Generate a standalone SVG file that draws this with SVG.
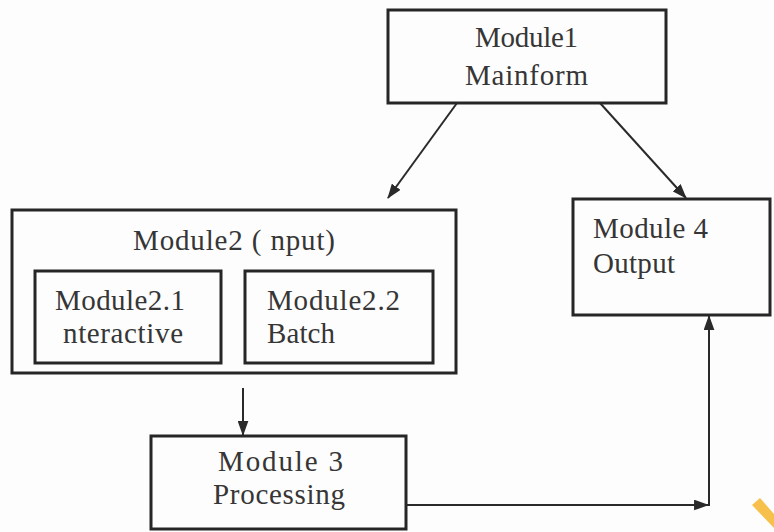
<svg xmlns="http://www.w3.org/2000/svg" width="774" height="532" viewBox="0 0 774 532">
  <defs>
    <marker id="arrow" viewBox="0 0 14 10" refX="13" refY="5" markerWidth="15" markerHeight="11" markerUnits="userSpaceOnUse" orient="auto">
      <path d="M0,0 L14,5 L0,10 Z" fill="#2a2a2a"/>
    </marker>
    <style>
      .box { fill: none; stroke: #262626; stroke-width: 3; }
      .lbl { font-family: "Liberation Serif", "Times New Roman", serif; font-size: 29px; fill: #363636; }
      .edge { fill: none; stroke: #2a2a2a; stroke-width: 2; marker-end: url(#arrow); }
    </style>
  </defs>
  <rect width="774" height="532" fill="#fdfdfd"/>

  <g id="module1">
    <rect class="box" x="388" y="10" width="278" height="93"/>
    <text class="lbl" x="475" y="47" textLength="103" lengthAdjust="spacing">Module1</text>
    <text class="lbl" x="465" y="85" textLength="123" lengthAdjust="spacing">Mainform</text>
  </g>

  <g id="module2">
    <rect class="box" x="12" y="210" width="444" height="163"/>
    <text class="lbl" x="133" y="250" textLength="202" lengthAdjust="spacing">Module2 ( nput)</text>
  </g>

  <g id="module2-1">
    <rect class="box" x="35" y="271" width="186" height="92"/>
    <text class="lbl" x="55" y="310" textLength="130" lengthAdjust="spacing">Module2.1</text>
    <text class="lbl" x="63" y="343" textLength="120" lengthAdjust="spacing">nteractive</text>
  </g>

  <g id="module2-2">
    <rect class="box" x="245" y="271" width="188" height="92"/>
    <text class="lbl" x="267" y="310" textLength="133" lengthAdjust="spacing">Module2.2</text>
    <text class="lbl" x="267" y="343" textLength="68" lengthAdjust="spacing">Batch</text>
  </g>

  <g id="module3">
    <rect class="box" x="151" y="436" width="255" height="93"/>
    <text class="lbl" x="218" y="471" textLength="125" lengthAdjust="spacing">Module 3</text>
    <text class="lbl" x="213" y="504" textLength="132" lengthAdjust="spacing">Processing</text>
  </g>

  <g id="module4">
    <rect class="box" x="573" y="199" width="197" height="116"/>
    <text class="lbl" x="593" y="238" textLength="115" lengthAdjust="spacing">Module 4</text>
    <text class="lbl" x="593" y="273" textLength="82" lengthAdjust="spacing">Output</text>
  </g>

  <g id="connectors">
    <path class="edge" d="M457,103 L388,198"/>
    <path class="edge" d="M600,103 L686,198"/>
    <path class="edge" d="M243,388 L243,435"/>
    <path class="edge" d="M406,505 L708,505"/>
    <path class="edge" d="M709,506 L709,316"/>
  </g>

  <!-- corner mark -->
  <path d="M752,505 L760,498 L774,514 L774,528 Z" fill="#f7c04a"/>
</svg>
